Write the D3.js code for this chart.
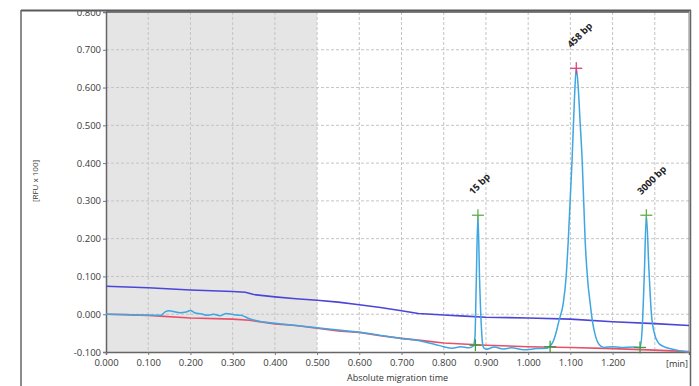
<!DOCTYPE html>
<html>
<head>
<meta charset="utf-8">
<script src="https://cdn.jsdelivr.net/npm/d3@7"></script>
<style>
  html, body { margin: 0; padding: 0; background: #fff; }
  svg { display: block; font-family: "Open Sans", "Noto Sans", sans-serif; }
</style>
</head>
<body>
<svg id="chart" width="699" height="386"></svg>
<script>
// Electropherogram: signal, baselines and called fragments
const xTicks = [0, 0.1, 0.2, 0.3, 0.4, 0.5, 0.6, 0.7, 0.8, 0.9, 1.0, 1.1, 1.2];
const xGrid = [0.1, 0.2, 0.3, 0.4, 0.5, 0.6, 0.7, 0.8, 0.9, 1.0, 1.1, 1.2, 1.3];
const yTicks = [-0.1, 0, 0.1, 0.2, 0.3, 0.4, 0.5, 0.6, 0.7, 0.8];

const signalTime = [0.000,0.050,0.100,0.130,0.140,0.150,0.160,0.175,0.190,0.200,0.210,0.225,0.240,0.255,0.270,0.285,0.300,0.320,0.340,0.360,0.400,0.450,0.500,0.550,0.600,0.650,0.700,0.750,0.780,0.800,0.820,0.840,0.860,0.870,0.874,0.877,0.881,0.885,0.889,0.893,0.900,0.920,0.940,0.960,0.990,1.020,1.045,1.052,1.060,1.067,1.073,1.083,1.090,1.095,1.104,1.110,1.114,1.118,1.123,1.128,1.135,1.141,1.147,1.152,1.160,1.168,1.180,1.200,1.220,1.250,1.265,1.270,1.275,1.280,1.286,1.292,1.300,1.308,1.320,1.340,1.360,1.381];
const signalValue = [0.000,-0.001,-0.003,-0.003,0.006,0.009,0.007,0.004,0.006,0.010,0.004,0.001,-0.003,0.000,-0.004,0.002,-0.001,-0.003,-0.012,-0.018,-0.024,-0.030,-0.036,-0.042,-0.048,-0.056,-0.064,-0.072,-0.080,-0.086,-0.090,-0.086,-0.089,-0.084,-0.060,0.080,0.262,0.090,-0.030,-0.085,-0.093,-0.087,-0.092,-0.089,-0.094,-0.091,-0.090,-0.084,-0.070,-0.045,-0.017,0.028,0.100,0.195,0.407,0.580,0.651,0.610,0.510,0.407,0.195,0.090,0.028,-0.017,-0.060,-0.080,-0.088,-0.086,-0.088,-0.087,-0.088,-0.040,0.100,0.262,0.120,0.000,-0.055,-0.075,-0.085,-0.092,-0.097,-0.100];

const upperTime = [0.00,0.10,0.20,0.30,0.33,0.35,0.40,0.45,0.50,0.55,0.60,0.65,0.70,0.74,0.80,0.85,0.90,1.00,1.10,1.20,1.30,1.381];
const upperValue = [0.074,0.070,0.064,0.060,0.058,0.052,0.046,0.041,0.037,0.032,0.025,0.018,0.009,0.002,-0.002,-0.005,-0.008,-0.010,-0.013,-0.020,-0.025,-0.030];

const lowerTime = [0.00,0.10,0.20,0.30,0.34,0.40,0.45,0.50,0.55,0.60,0.65,0.70,0.75,0.80,0.90,1.00,1.10,1.20,1.30,1.381];
const lowerValue = [0.000,-0.003,-0.010,-0.013,-0.016,-0.026,-0.030,-0.037,-0.044,-0.048,-0.057,-0.064,-0.070,-0.076,-0.082,-0.086,-0.088,-0.091,-0.095,-0.099];

const peakLabels = ["15 bp", "458 bp", "3000 bp"];
const peakTimes = [0.881, 1.114, 1.280];
const peakHeights = [0.262, 0.651, 0.262];
const peakStartTimes = [0.875, 1.052, 1.265];
const peakStartValues = [-0.082, -0.086, -0.088];

const shadeEnd = 0.5;
const xMax = 1.381;

const svg = d3.select("#chart");
const plot = { left: 106, right: 689, top: 12, bottom: 352 };

const x = d3.scaleLinear().domain([0, xMax]).range([plot.left, plot.right]);
const y = d3.scaleLinear().domain([-0.1, 0.8]).range([plot.bottom, plot.top]);

// shaded region at the start of the run
svg.append("rect")
  .attr("x", x(0)).attr("y", plot.top)
  .attr("width", x(shadeEnd) - x(0)).attr("height", plot.bottom - plot.top)
  .attr("fill", "#e5e5e5");

// grid
svg.append("g").selectAll("line").data(xGrid).join("line")
  .attr("x1", d => x(d)).attr("x2", d => x(d))
  .attr("y1", plot.top).attr("y2", plot.bottom)
  .attr("stroke", "#c4c4c4").attr("stroke-width", 1).attr("stroke-dasharray", "3,2");
svg.append("g").selectAll("line").data(yTicks.filter(d => d > -0.1 && d < 0.8)).join("line")
  .attr("x1", plot.left).attr("x2", plot.right)
  .attr("y1", d => y(d)).attr("y2", d => y(d))
  .attr("stroke", "#c4c4c4").attr("stroke-width", 1).attr("stroke-dasharray", "3,2");

// axes (plain hyphen for negatives)
const fmt = d => d3.format(".3f")(d).replace("\u2212", "-");
const yAxis = svg.append("g")
  .attr("transform", `translate(${plot.left},0)`)
  .call(d3.axisLeft(y).tickValues(yTicks).tickFormat(fmt).tickSize(3).tickPadding(2));
const xAxis = svg.append("g")
  .attr("transform", `translate(0,${plot.bottom})`)
  .call(d3.axisBottom(x).tickValues(xTicks).tickFormat(fmt).tickSize(3).tickPadding(4));
[yAxis, xAxis].forEach(g => {
  g.select(".domain").attr("stroke", "#666").attr("stroke-width", 1.5);
  g.selectAll(".tick line").attr("stroke", "#777");
  g.selectAll(".tick text").attr("fill", "#3a3a3a").attr("font-size", 9.5)
    .attr("font-family", "'Open Sans', sans-serif");
});

// plot top and right edges
svg.append("line").attr("x1", plot.left).attr("x2", plot.right)
  .attr("y1", plot.top).attr("y2", plot.top).attr("stroke", "#555").attr("stroke-width", 1.5);
svg.append("line").attr("x1", plot.right).attr("x2", plot.right)
  .attr("y1", plot.top).attr("y2", plot.bottom).attr("stroke", "#888").attr("stroke-width", 1);

const lineGen = d3.line().x(d => x(d[0])).y(d => y(d[1]));
const zip = (a, b) => a.map((t, i) => [t, b[i]]);

// baselines
svg.append("path").datum(zip(upperTime, upperValue))
  .attr("d", lineGen).attr("fill", "none")
  .attr("stroke", "#4b45d8").attr("stroke-width", 1.6);
svg.append("path").datum(zip(lowerTime, lowerValue))
  .attr("d", lineGen).attr("fill", "none")
  .attr("stroke", "#e8506a").attr("stroke-width", 1.6);

// signal trace
svg.append("path").datum(zip(signalTime, signalValue))
  .attr("d", lineGen.curve(d3.curveMonotoneX)).attr("fill", "none")
  .attr("stroke", "#3ea6e0").attr("stroke-width", 1.5);

// cross markers
function cross(cx, cy, color) {
  const s = 6;
  const g = svg.append("g").attr("stroke", color).attr("stroke-width", 1.3);
  g.append("line").attr("x1", cx - s).attr("x2", cx + s).attr("y1", cy).attr("y2", cy);
  g.append("line").attr("x1", cx).attr("x2", cx).attr("y1", cy - s).attr("y2", cy + s);
}
const tallest = d3.max(peakHeights);
peakStartTimes.forEach((t, i) => cross(x(t), y(peakStartValues[i]), "#3d9a3d"));
peakTimes.forEach((t, i) => {
  cross(x(t), y(peakHeights[i]), peakHeights[i] === tallest ? "#e0407a" : "#5fb04a");
});

// fragment labels
peakTimes.forEach((t, i) => {
  const px = x(t) - 5, py = y(peakHeights[i]) - 20;
  svg.append("text")
    .attr("transform", `translate(${px},${py}) rotate(-45)`)
    .attr("font-size", 9.5).attr("font-weight", "bold").attr("fill", "#222")
    .text(peakLabels[i]);
});

// cover strip above the plot and window frame
svg.append("rect").attr("x", 0).attr("y", 0).attr("width", 699).attr("height", 10).attr("fill", "#fff");
svg.append("line").attr("x1", 21).attr("x2", 691).attr("y1", 10.5).attr("y2", 10.5)
  .attr("stroke", "#5a5a5a").attr("stroke-width", 2);
svg.append("line").attr("x1", 21).attr("x2", 21).attr("y1", 10).attr("y2", 386)
  .attr("stroke", "#666").attr("stroke-width", 1.5);
svg.append("line").attr("x1", 690.5).attr("x2", 690.5).attr("y1", 10).attr("y2", 386)
  .attr("stroke", "#666").attr("stroke-width", 1.5);

// axis titles
svg.append("text")
  .attr("transform", `translate(38,181) rotate(-90)`)
  .attr("text-anchor", "middle").attr("font-size", 8).attr("fill", "#333")
  .text("[RFU x 100]");
svg.append("text")
  .attr("x", (plot.left + plot.right) / 2).attr("y", 381)
  .attr("text-anchor", "middle").attr("font-size", 9).attr("fill", "#333")
  .text("Absolute migration time");
svg.append("text")
  .attr("x", 688).attr("y", 367)
  .attr("text-anchor", "end").attr("font-size", 9).attr("fill", "#333")
  .text("[min]");
</script>
</body>
</html>
